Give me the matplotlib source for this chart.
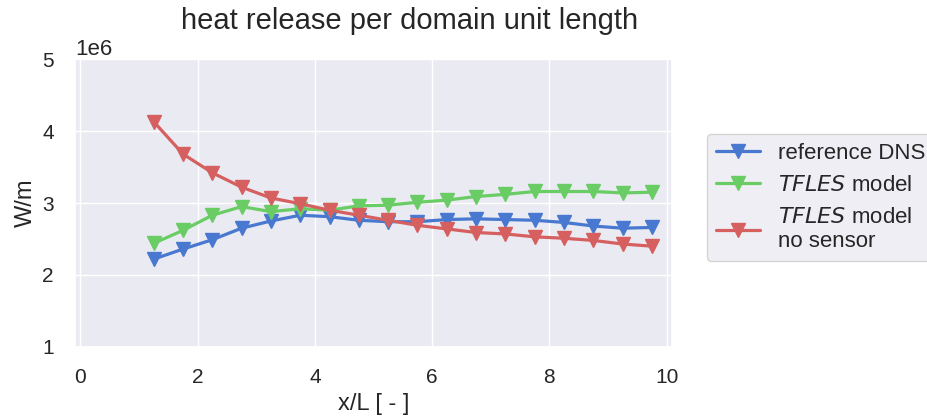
import matplotlib
matplotlib.use("Agg")
import matplotlib.pyplot as plt
import seaborn as sns
import numpy as np

x = [1.25, 1.75, 2.25, 2.75, 3.25, 3.75, 4.25, 4.75, 5.25, 5.75,
     6.25, 6.75, 7.25, 7.75, 8.25, 8.75, 9.25, 9.75]
ref_dns = [2.22, 2.36, 2.49, 2.65, 2.75, 2.83, 2.81, 2.76, 2.74, 2.74,
           2.77, 2.78, 2.77, 2.76, 2.73, 2.68, 2.65, 2.66]
tfles = [2.44, 2.62, 2.83, 2.95, 2.88, 2.92, 2.90, 2.96, 2.97, 3.01,
         3.04, 3.09, 3.12, 3.16, 3.16, 3.16, 3.14, 3.15]
tfles_nosensor = [4.13, 3.68, 3.42, 3.22, 3.07, 2.99, 2.90, 2.83, 2.76, 2.69,
                  2.64, 2.59, 2.57, 2.53, 2.51, 2.48, 2.43, 2.40]
scale = 1e6

sns.set_theme(style="darkgrid", palette="muted")
plt.rcParams['font.family'] = ['Liberation Sans', 'DejaVu Sans']

fig = plt.figure(figsize=(9.28, 4.19), dpi=100)
ax = fig.add_axes([0.081, 0.172, 0.643, 0.687])
cols = sns.color_palette("muted")

ax.plot(x, np.array(ref_dns) * scale, marker='v', color=cols[0], lw=2.3, ms=10.5,
        label='reference DNS')
ax.plot(x, np.array(tfles) * scale, marker='v', color=cols[2], lw=2.3, ms=10.5,
        label=r'$\it{TFLES}$ model')
ax.plot(x, np.array(tfles_nosensor) * scale, marker='v', color=cols[3], lw=2.3, ms=10.5,
        label='$\\it{TFLES}$ model\nno sensor')

ax.set_xlim(-0.09, 10.09)
ax.set_ylim(1e6, 5e6)
ax.set_xticks([0, 2, 4, 6, 8, 10])
ax.set_yticks([1e6, 2e6, 3e6, 4e6, 5e6])
base_pad = plt.rcParams['xtick.major.pad']
ax.tick_params(labelsize=15, pad=base_pad + 6)
ax.yaxis.get_offset_text().set_fontsize(16)
ax.set_xlabel('x/L [ - ]', fontsize=17)
ax.set_ylabel('W/m', fontsize=17)
ax.set_title('heat release per domain unit length', fontsize=21, pad=22, x=0.56)
ax.legend(loc='center left', bbox_to_anchor=(1.04, 0.52), fontsize=16)

fig.savefig('out.png', dpi=100)
